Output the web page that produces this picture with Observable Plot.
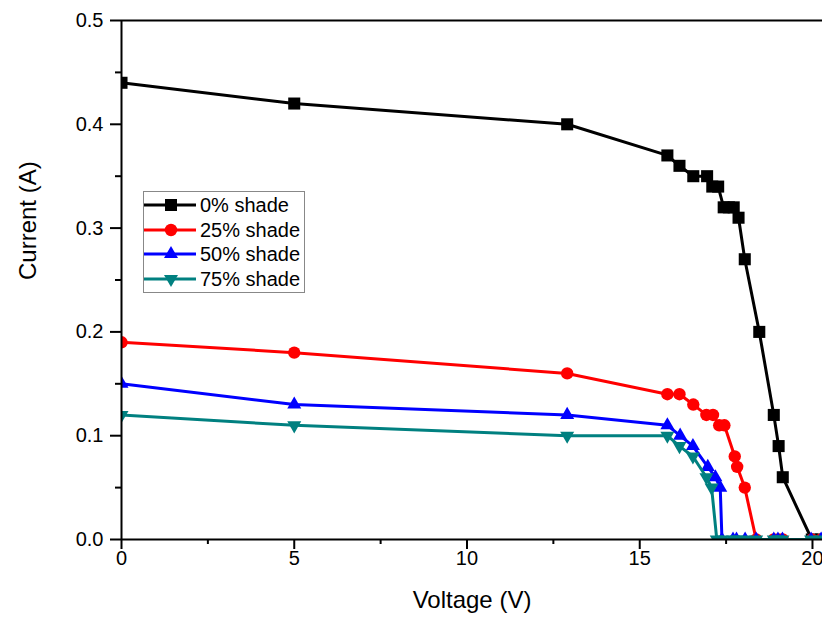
<!DOCTYPE html>
<html><head><meta charset="utf-8">
<script src="https://cdn.jsdelivr.net/npm/d3@7"></script>
<script src="https://cdn.jsdelivr.net/npm/@observablehq/plot@0.6"></script>
<style>
body{margin:0;background:#fff;}
#wrap{position:relative;width:822px;height:623px;overflow:hidden;font-family:Arial,"Liberation Sans",sans-serif;}
#legend{position:absolute;left:143px;top:191px;width:162px;height:102px;border:1px solid #888;background:#fff;box-sizing:border-box;}
#legend .row{position:absolute;left:0;height:24px;width:160px;}
#legend svg{position:absolute;left:0;top:0;}
#legend span{position:absolute;left:56px;top:0;line-height:24px;font-size:20px;color:#000;white-space:nowrap;}
</style></head><body><div id="wrap"></div>
<script>
const seriesNames = ["0% shade", "25% shade", "50% shade", "75% shade"];
const seriesColors = ["#000000", "#ff0000", "#0000ff", "#008080"];

const voltage0 = [0, 5, 12.9, 15.8, 16.15, 16.55, 16.95, 17.1, 17.27, 17.43, 17.58, 17.72, 17.86, 18.04, 18.46, 18.88, 19.02, 19.14, 19.98, 20.25];
const current0 = [0.44, 0.42, 0.40, 0.37, 0.36, 0.35, 0.35, 0.34, 0.34, 0.32, 0.32, 0.32, 0.31, 0.27, 0.20, 0.12, 0.09, 0.06, 0.00, 0.00];

const voltage1 = [0, 5, 12.9, 15.8, 16.15, 16.55, 16.93, 17.12, 17.3, 17.45, 17.75, 17.82, 18.04, 18.37, 18.88, 19.02, 19.14, 19.98, 20.25];
const current1 = [0.19, 0.18, 0.16, 0.14, 0.14, 0.13, 0.12, 0.12, 0.11, 0.11, 0.08, 0.07, 0.05, 0, 0, 0, 0, 0, 0];

const voltage2 = [0, 5, 12.9, 15.8, 16.17, 16.54, 16.97, 17.19, 17.33, 17.38, 17.7, 17.8, 18.05, 18.37, 18.88, 19.0, 19.13, 19.96, 20.25];
const current2 = [0.15, 0.13, 0.12, 0.11, 0.10, 0.09, 0.07, 0.06, 0.05, 0, 0, 0, 0, 0, 0, 0, 0, 0, 0];

const voltage3 = [0, 5, 12.9, 15.8, 16.15, 16.54, 16.93, 17.08, 17.23, 17.38, 17.7, 17.8, 18.05, 18.37, 18.88, 19.0, 19.13, 19.96, 20.25];
const current3 = [0.12, 0.11, 0.10, 0.10, 0.09, 0.08, 0.06, 0.05, 0, 0, 0, 0, 0, 0, 0, 0, 0, 0, 0];

const xTicks = [0, 5, 10, 15, 20];
const xMinorTicks = [2.5, 7.5, 12.5, 17.5];
const yTicks = [0, 0.1, 0.2, 0.3, 0.4, 0.5];
const yMinorTicks = [0.05, 0.15, 0.25, 0.35, 0.45];

const triangleDown = {
  draw(context, size) {
    const y = -Math.sqrt(size / (Math.sqrt(3) * 3));
    context.moveTo(0, -y * 2);
    context.lineTo(-Math.sqrt(3) * y, y);
    context.lineTo(Math.sqrt(3) * y, y);
    context.closePath();
  }
};
const symbols = ["square", "circle", "triangle", triangleDown];
const d3Symbols = [d3.symbolSquare, d3.symbolCircle, d3.symbolTriangle, triangleDown];
const radii = [6.8, 6.2, 5.2, 5.2];

const volts = [voltage0, voltage1, voltage2, voltage3];
const amps = [current0, current1, current2, current3];

const marks = [];
volts.forEach((vs, k) => {
  const data = vs.map((v, j) => ({v, i: amps[k][j]}));
  marks.push(Plot.line(data, {x: "v", y: "i", stroke: seriesColors[k], strokeWidth: 3, clip: true}));
  marks.push(Plot.dot(data, {x: "v", y: "i", symbol: symbols[k], r: radii[k], fill: seriesColors[k], stroke: "none", clip: true}));
});

const chart = Plot.plot({
  width: 822,
  height: 623,
  marginLeft: 121,
  marginRight: 0,
  marginTop: 20,
  marginBottom: 84,
  style: {fontFamily: "Arial, 'Liberation Sans', sans-serif", color: "#000", background: "#fff", overflow: "hidden"},
  x: {domain: [0, 20.29]},
  y: {domain: [0, 0.5]},
  marks: [
    ...marks,
    Plot.ruleX([0], {strokeWidth: 2}),
    Plot.ruleY([0], {strokeWidth: 2}),
    Plot.ruleY([0.5], {strokeWidth: 2}),
    Plot.axisX({ticks: xTicks, tickSize: 10, strokeWidth: 2, tickFormat: () => "", label: null}),
    Plot.axisX({ticks: xMinorTicks, tickSize: 5, strokeWidth: 2, tickFormat: () => "", label: null}),
    Plot.axisY({ticks: yTicks, tickSize: 11, strokeWidth: 2, tickFormat: () => "", label: null}),
    Plot.axisY({ticks: yMinorTicks, tickSize: 6, strokeWidth: 2, tickFormat: () => "", label: null}),
    Plot.text(xTicks, {x: d => d, frameAnchor: "bottom", dy: 25, fontSize: 20, fill: "#000", text: d => String(d)}),
    Plot.text(yTicks, {y: d => d, frameAnchor: "left", dx: -18, textAnchor: "end", fontSize: 20, fill: "#000", text: d => d3.format(".1f")(d)}),
    Plot.text(["Voltage (V)"], {frameAnchor: "bottom", dy: 68, fontSize: 24, fill: "#000"}),
    Plot.text(["Current (A)"], {frameAnchor: "left", dx: -93, rotate: -90, fontSize: 24, fill: "#000"})
  ]
});

const wrap = document.getElementById("wrap");
wrap.appendChild(chart);

const legend = document.createElement("div");
legend.id = "legend";
const rowTops = [0, 24.5, 49, 73.5];
seriesNames.forEach((name, k) => {
  const row = document.createElement("div");
  row.className = "row";
  row.style.top = (rowTops[k] + 1) + "px";
  const svg = d3.create("svg").attr("width", 56).attr("height", 24);
  svg.append("line").attr("x1", 0).attr("x2", 52).attr("y1", 12).attr("y2", 12)
    .attr("stroke", seriesColors[k]).attr("stroke-width", 3);
  svg.append("path").attr("transform", "translate(27,12)")
    .attr("d", d3.symbol(d3Symbols[k], radii[k] * radii[k] * Math.PI)())
    .attr("fill", seriesColors[k]);
  row.appendChild(svg.node());
  const span = document.createElement("span");
  span.textContent = name;
  row.appendChild(span);
  legend.appendChild(row);
});
wrap.appendChild(legend);
</script>
</body></html>
